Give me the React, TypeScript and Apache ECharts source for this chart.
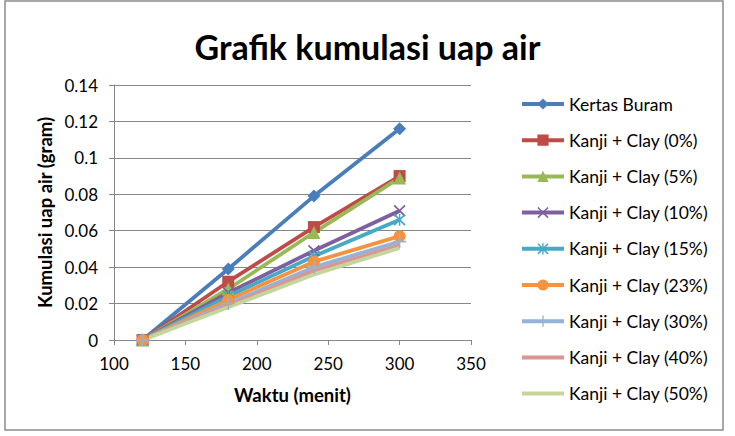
import React, { useEffect, useRef } from "react";
import * as echarts from "echarts";

const times = [120, 180, 240, 300];
const seriesNames = [
  "Kertas Buram",
  "Kanji + Clay (0%)",
  "Kanji + Clay (5%)",
  "Kanji + Clay (10%)",
  "Kanji + Clay (15%)",
  "Kanji + Clay (23%)",
  "Kanji + Clay (30%)",
  "Kanji + Clay (40%)",
  "Kanji + Clay (50%)",
];
const kertasBuram = [0, 0.039, 0.079, 0.116];
const clay0 = [0, 0.032, 0.062, 0.09];
const clay5 = [0, 0.028, 0.059, 0.089];
const clay10 = [0, 0.026, 0.049, 0.071];
const clay15 = [0, 0.024, 0.046, 0.066];
const clay23 = [0, 0.022, 0.043, 0.057];
const clay30 = [0, 0.02, 0.04, 0.054];
const clay40 = [0, 0.019, 0.038, 0.052];
const clay50 = [0, 0.018, 0.036, 0.0505];
const allValues = [kertasBuram, clay0, clay5, clay10, clay15, clay23, clay30, clay40, clay50];

const colors = ["#4A7EBB", "#BE4B48", "#98B954", "#7D60A0", "#46AAC5", "#F69240", "#95B3D7", "#D99694", "#C3D69B"];

const X_PATH = "path://M0,1 L1,0 L5,4 L9,0 L10,1 L6,5 L10,9 L9,10 L5,6 L1,10 L0,9 L4,5 Z";
const STAR_PATH = "path://M0,1 L1,0 L5,4 L9,0 L10,1 L6,5 L10,9 L9,10 L5,6 L1,10 L0,9 L4,5 Z M4.4,0 L5.6,0 L5.6,10 L4.4,10 Z";
const PLUS_PATH = "path://M4.4,0 L5.6,0 L5.6,4.4 L10,4.4 L10,5.6 L5.6,5.6 L5.6,10 L4.4,10 L4.4,5.6 L0,5.6 L0,4.4 L4.4,4.4 Z";
const symbols = ["diamond", "rect", "triangle", X_PATH, STAR_PATH, "circle", PLUS_PATH, "none", "none"];
const symbolSizes = [13, 12, 13, 12, 12, 12, 13, 0, 0];

const FONT = "Lato";

export default function App() {
  const ref = useRef<HTMLDivElement>(null);
  useEffect(() => {
    document.body.style.margin = "0";
    const chart = echarts.init(ref.current!, null, { renderer: "svg" });
    const series = seriesNames.map((name, i) => ({
      name,
      type: "line",
      data: times.map((t, j) => [t, allValues[i][j]]),
      symbol: symbols[i],
      symbolSize: symbolSizes[i],
      showSymbol: symbols[i] !== "none",
      lineStyle: { width: 3.8, color: colors[i] },
      itemStyle: { color: colors[i] },
      color: colors[i],
    }));
    chart.setOption({
      animation: false,
      backgroundColor: "#ffffff",
      title: {
        text: "Grafik kumulasi uap air",
        left: "center",
        top: 24,
        textStyle: { fontFamily: FONT, fontWeight: "bold", fontSize: 34, color: "#000" },
      },
      grid: { left: 114, top: 85, width: 357, height: 255 },
      legend: {
        orient: "vertical",
        left: 515,
        top: 90,
        itemWidth: 42,
        itemHeight: 14,
        itemGap: 18.2,
        textStyle: { fontFamily: FONT, fontSize: 17.5, color: "#000" },
        lineStyle: { width: 4 },
        data: seriesNames.map((name, i) =>
          symbols[i] === "none" ? { name, itemStyle: { opacity: 0 } } : { name }
        ),
      },
      xAxis: {
        type: "value",
        min: 100,
        max: 350,
        interval: 50,
        name: "Waktu (menit)",
        nameLocation: "middle",
        nameGap: 45,
        nameTextStyle: { fontFamily: FONT, fontWeight: "bold", fontSize: 18.5, color: "#000" },
        axisLine: { show: true, lineStyle: { color: "#868686", width: 1 } },
        axisTick: { show: true, inside: false, length: 5, lineStyle: { color: "#868686" } },
        axisLabel: { fontFamily: FONT, fontSize: 17, color: "#000", margin: 15 },
        splitLine: { show: false },
      },
      yAxis: {
        type: "value",
        min: 0,
        max: 0.14,
        interval: 0.02,
        name: "Kumulasi uap air (gram)",
        nameLocation: "middle",
        nameGap: 60,
        nameTextStyle: { fontFamily: FONT, fontWeight: "bold", fontSize: 18.5, color: "#000" },
        axisLine: { show: true, lineStyle: { color: "#868686", width: 1 } },
        axisTick: { show: true, length: 5, lineStyle: { color: "#868686" } },
        axisLabel: { fontFamily: FONT, fontSize: 17, color: "#000", margin: 16 },
        splitLine: { show: true, lineStyle: { color: "#868686", width: 1 } },
      },
      graphic: [
        {
          type: "rect",
          shape: { x: 5, y: 1, width: 718, height: 429 },
          style: { fill: "none", stroke: "#8c8c8c", lineWidth: 1.5 },
          silent: true,
        },
      ],
      series,
    });
    return () => chart.dispose();
  }, []);
  return <div ref={ref} style={{ width: 735, height: 436 }} />;
}
